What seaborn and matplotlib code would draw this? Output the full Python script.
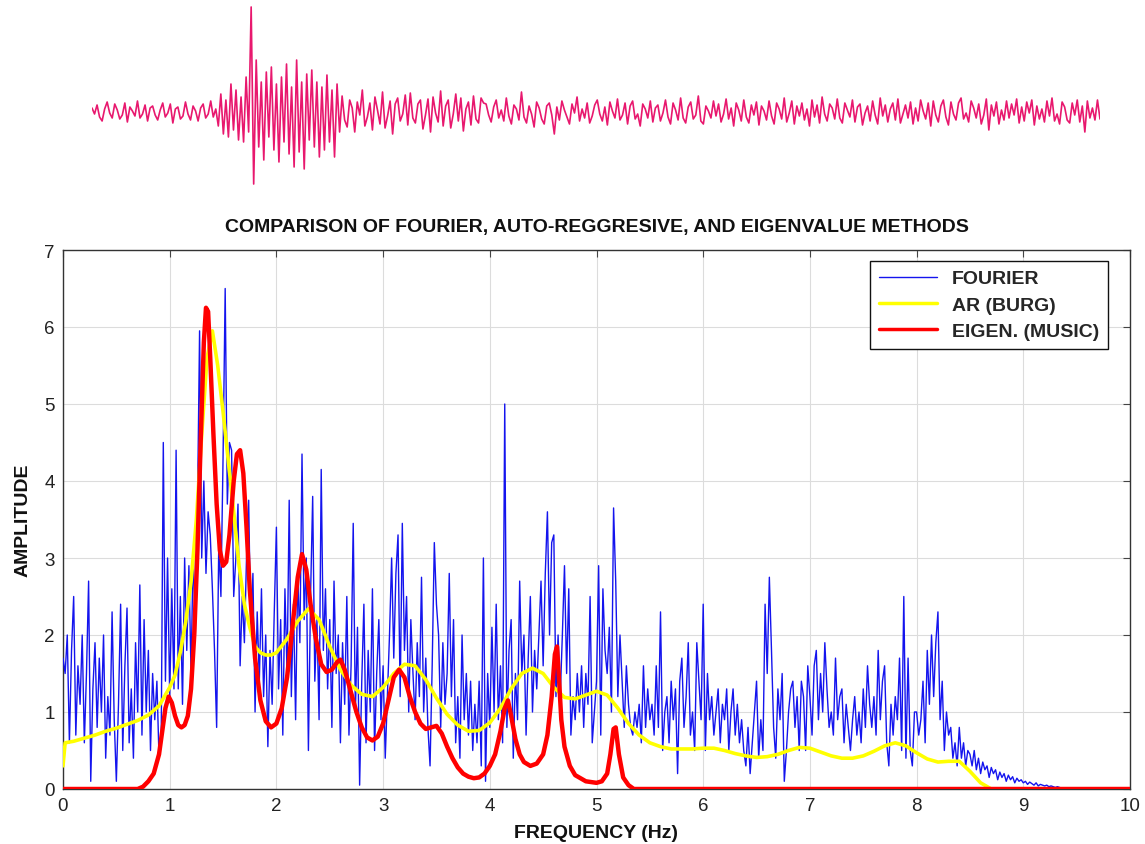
import numpy as np
import pandas as pd
import matplotlib
matplotlib.use("Agg")
import matplotlib.pyplot as plt
import seaborn as sns

# ---------------- data ----------------
# seismogram trace (arbitrary units, evenly sampled)
seismo = [4,-2,7,-5,-9,3,10,-1,-6,8,2,-7,-3,9,-10,5,1,-4,11,-6,-2,7,-9,4,6,-3,-8,2,9,-5,
          -1,8,-11,3,5,-7,-4,10,-2,-8,6,1,-9,4,8,-6,-2,11,-5,3,
          -14,18,-22,12,-25,28,-18,22,-28,15,-30,35,-20,
          105,-72,
          52,-35,30,-48,40,-25,45,-38,28,-50,35,-30,48,-42,25,-55,52,-40,30,-57,
          38,-28,42,-35,30,-45,25,-38,37,-30,22,-45,28,-20,
          16,-8,-15,12,4,-20,10,-3,22,-14,-5,9,-18,15,2,-12,20,-16,-4,11,
          -22,8,14,-9,-2,17,-13,19,-6,-11,8,12,-17,-3,13,-20,15,-1,-10,21,
          -14,6,12,-16,-2,18,-9,14,-19,3,10,-13,16,-7,-11,14,9,
          8,-3,-10,5,12,-6,2,-9,14,-4,-12,7,3,-8,20,-5,-11,6,-2,-15,
          10,4,-7,-12,6,9,-3,-22,5,-8,11,2,-5,-12,8,-1,15,-9,3,-6,
          9,-11,-4,7,12,-2,-9,5,-13,10,1,-6,13,-8,-3,9,-12,6,11,-7,
          -2,-14,8,3,-6,11,-10,4,7,-9,-1,12,-5,-12,9,2,-8,14,-6,-11,
          5,10,-7,-3,16,-9,-12,6,1,-6,11,-4,8,-10,-2,13,-7,4,-14,9,
          2,-9,12,-5,-11,7,-3,10,-13,6,1,-8,11,-4,-12,9,3,-7,14,-10,
          -1,11,-12,6,-4,9,-8,3,-14,12,-5,7,-11,15,-2,-9,8,4,-7,13,
          -6,-11,9,2,-5,12,-10,5,8,-13,-1,6,-9,11,-3,-12,14,-4,7,-10,
          3,9,-8,13,-11,-2,7,-6,10,-12,4,-9,12,1,-7,9,-14,11,-3,-10,
          6,12,-5,-13,10,-2,-8,9,14,-7,-1,-10,11,4,-6,8,-12,-3,13,-18,
          7,-4,10,-12,2,-8,11,-6,8,-3,13,-11,5,-9,10,-1,12,-13,6,-7,
          3,-10,11,-4,14,-9,-2,-12,10,5,-8,-11,9,-3,12,-10,6,-20,11,-6,
          4,-8,12,-7]

# Fourier amplitude spectrum, sampled every 0.02 Hz from 0 Hz
fourier_step_hz = 0.02
fourier_amp = [
    1.7,1.5,2.0,0.6,1.8,2.5,0.7,1.6,1.1,2.0,0.6,1.5,2.7,0.1,1.3,1.9,0.8,1.7,1.0,2.0,0.4,1.2,0.7,2.3,0.9,
    0.1,1.1,2.4,0.5,1.6,2.35,0.6,1.3,0.4,1.9,1.0,2.65,0.7,2.2,1.0,1.8,0.5,1.5,0.9,1.4,0.4,0.6,4.5,1.4,3.0,
    1.2,2.6,1.3,4.4,1.3,2.5,1.1,3.0,1.8,2.9,1.5,3.1,2.0,3.6,5.95,3.0,4.0,2.8,3.6,3.3,2.6,1.8,0.8,3.2,2.5,
    4.3,6.5,3.7,4.5,4.4,2.5,3.0,3.7,1.6,2.5,1.9,3.0,3.75,2.0,2.8,1.0,2.3,1.4,2.6,1.2,2.0,0.55,1.8,1.1,2.3,
    3.4,1.3,2.2,0.7,2.6,1.5,3.75,1.2,2.4,0.9,2.8,1.9,4.35,2.2,3.0,0.5,2.5,3.8,1.4,2.2,0.9,4.15,1.8,2.6,1.3,
    2.2,0.8,2.7,1.5,2.0,0.6,1.9,1.1,2.5,0.7,1.6,3.45,1.0,2.1,0.05,1.4,2.4,0.6,1.8,1.0,2.6,0.5,1.5,2.2,0.9,
    1.6,0.4,1.2,2.0,3.0,1.7,2.8,3.3,1.2,3.45,1.8,2.5,1.0,2.2,1.5,0.9,1.9,1.2,2.75,1.0,1.7,0.8,0.3,1.6,3.2,
    2.4,2.0,0.8,1.9,1.1,1.5,2.8,1.2,2.2,0.6,1.2,0.4,2.0,0.9,1.5,0.7,1.4,0.5,1.1,0.6,1.4,0.3,3.0,0.1,1.5,
    0.8,2.1,1.0,2.4,0.9,1.6,0.6,5.0,0.8,1.8,2.2,0.4,1.5,0.9,2.7,1.5,2.0,0.7,1.7,2.5,1.0,1.8,1.3,2.0,2.7,
    1.6,2.8,3.6,2.0,3.2,3.3,1.2,2.0,1.2,2.0,2.9,1.5,2.6,0.7,1.2,0.9,1.5,1.0,1.6,0.8,1.5,1.1,2.5,0.6,1.0,
    1.4,2.9,0.7,2.6,1.8,1.5,2.1,1.0,3.65,2.7,1.2,2.0,1.4,0.8,1.6,1.1,0.8,0.7,1.0,0.8,1.1,0.6,1.6,0.8,1.3,
    0.9,1.1,0.7,1.6,0.8,2.3,0.5,1.0,1.2,0.6,1.4,0.9,1.3,0.2,1.4,1.7,0.8,1.2,1.9,0.7,1.0,0.5,1.9,1.4,0.9,
    2.4,0.5,1.5,0.9,1.2,0.7,1.0,1.3,0.6,1.1,0.9,1.3,0.5,1.0,1.3,0.7,1.1,0.6,0.9,0.5,0.3,0.8,0.2,0.6,1.0,
    1.4,0.4,0.9,0.5,2.4,1.5,2.75,1.8,0.8,0.4,1.3,0.9,1.5,0.1,0.5,1.0,1.3,1.4,0.8,1.2,0.5,1.4,1.2,0.5,1.6,
    1.2,0.7,1.6,1.8,0.9,1.5,1.0,1.9,1.3,0.8,1.0,0.7,1.7,0.9,1.2,1.3,0.6,1.1,0.8,0.5,0.9,1.2,0.7,1.0,0.6,
    1.3,0.8,1.6,1.1,0.8,1.2,0.7,1.8,0.9,1.4,1.6,0.6,0.3,1.1,0.7,1.2,0.9,1.7,0.5,2.5,0.4,1.7,0.5,0.3,1.0,
    1.0,0.7,0.9,1.4,0.6,1.8,1.1,2.0,1.2,1.9,2.3,0.9,1.4,0.5,1.0,0.7,0.8,0.4,0.6,0.3,0.8,0.4,0.6,0.3,0.5,
    0.45,0.3,0.5,0.25,0.4,0.2,0.35,0.25,0.3,0.15,0.28,0.2,0.25,0.12,0.22,0.15,0.2,0.1,0.18,0.12,0.16,0.08,0.14,0.1,0.12,
    0.08,0.1,0.06,0.09,0.07,0.05,0.08,0.04,0.06,0.05,0.04,0.05,0.03,0.04,0.03,0.02,0.03,0.02,0.01,0.0,0.0]

# AR (Burg) spectrum
ar_freq = [0, 0.02, 0.1, 0.2, 0.3, 0.4, 0.5, 0.6, 0.7, 0.8, 0.9, 0.95, 1.0, 1.05, 1.1, 1.15, 1.2, 1.25,
           1.3, 1.35, 1.4, 1.45, 1.5, 1.55, 1.6, 1.65, 1.7, 1.75, 1.8, 1.85, 1.9, 1.95, 2.0, 2.1, 2.2,
           2.3, 2.4, 2.5, 2.6, 2.7, 2.8, 2.9, 3.0, 3.1, 3.2, 3.3, 3.4, 3.5, 3.6, 3.7, 3.8, 3.9, 4.0,
           4.1, 4.2, 4.3, 4.4, 4.5, 4.6, 4.7, 4.8, 4.9, 5.0, 5.1, 5.2, 5.3, 5.4, 5.5, 5.6, 5.7, 5.8,
           5.9, 6.0, 6.1, 6.2, 6.3, 6.4, 6.5, 6.6, 6.7, 6.8, 6.9, 7.0, 7.1, 7.2, 7.3, 7.4, 7.5, 7.6,
           7.7, 7.8, 7.9, 8.0, 8.1, 8.2, 8.3, 8.4, 8.5, 8.6, 8.7]
ar_amp = [0.3, 0.6, 0.62, 0.66, 0.7, 0.75, 0.79, 0.84, 0.89, 0.96, 1.08, 1.2, 1.32, 1.48, 1.78, 2.17,
          2.69, 3.5, 4.6, 5.6, 5.95, 5.5, 4.9, 4.25, 3.6, 2.9, 2.4, 2.1, 1.85, 1.77, 1.74, 1.74, 1.77,
          1.95, 2.18, 2.34, 2.2, 1.85, 1.55, 1.35, 1.23, 1.2, 1.32, 1.5, 1.62, 1.6, 1.42, 1.18, 0.97,
          0.83, 0.75, 0.76, 0.86, 1.05, 1.3, 1.5, 1.57, 1.5, 1.32, 1.19, 1.17, 1.22, 1.27, 1.22, 1.05,
          0.85, 0.7, 0.6, 0.55, 0.52, 0.52, 0.52, 0.53, 0.53, 0.5, 0.46, 0.43, 0.41, 0.42, 0.45, 0.5,
          0.54, 0.53, 0.48, 0.43, 0.4, 0.4, 0.43, 0.49, 0.56, 0.6, 0.56, 0.47, 0.39, 0.35, 0.36, 0.36,
          0.23, 0.08, 0.0]

# Eigenvalue (MUSIC) pseudo-spectrum
music_freq = [0, 0.7, 0.75, 0.8, 0.85, 0.9, 0.93, 0.96, 0.99, 1.02, 1.05, 1.08, 1.11, 1.14, 1.17, 1.2,
              1.23, 1.26, 1.29, 1.32, 1.34, 1.36, 1.38, 1.41, 1.44, 1.47, 1.5, 1.53, 1.56, 1.6, 1.63,
              1.66, 1.69, 1.72, 1.75, 1.8, 1.85, 1.9, 1.95, 2.0, 2.05, 2.1, 2.15, 2.2, 2.24, 2.28,
              2.32, 2.37, 2.42, 2.47, 2.52, 2.57, 2.6, 2.64, 2.7, 2.75, 2.8, 2.85, 2.9, 2.95, 3.0,
              3.05, 3.1, 3.15, 3.2, 3.25, 3.3, 3.35, 3.4, 3.45, 3.5, 3.55, 3.6, 3.65, 3.7, 3.75, 3.8,
              3.85, 3.9, 3.95, 4.0, 4.05, 4.1, 4.14, 4.17, 4.2, 4.24, 4.28, 4.32, 4.38, 4.44, 4.5,
              4.54, 4.58, 4.61, 4.63, 4.65, 4.67, 4.7, 4.75, 4.8, 4.9, 5.0, 5.05, 5.1, 5.13, 5.16,
              5.18, 5.21, 5.25, 5.3, 5.35, 10.0]
music_amp = [0, 0, 0.03, 0.1, 0.2, 0.45, 0.75, 1.05, 1.2, 1.12, 0.95, 0.83, 0.8, 0.83, 0.95, 1.3,
             2.0, 3.1, 4.5, 5.8, 6.25, 6.2, 5.6, 4.6, 3.7, 3.1, 2.9, 2.95, 3.3, 4.0, 4.35, 4.4, 4.1,
             3.4, 2.6, 1.7, 1.15, 0.88, 0.8, 0.85, 1.05, 1.45, 2.1, 2.75, 3.05, 2.85, 2.4, 1.95,
             1.62, 1.52, 1.55, 1.65, 1.68, 1.55, 1.25, 1.0, 0.8, 0.67, 0.63, 0.68, 0.85, 1.15, 1.45,
             1.55, 1.45, 1.2, 1.0, 0.85, 0.78, 0.8, 0.82, 0.72, 0.55, 0.4, 0.28, 0.2, 0.16, 0.14,
             0.15, 0.2, 0.3, 0.45, 0.75, 1.05, 1.15, 0.95, 0.65, 0.45, 0.35, 0.3, 0.33, 0.45, 0.7,
             1.2, 1.75, 1.85, 1.4, 0.9, 0.55, 0.3, 0.18, 0.1, 0.08, 0.1, 0.2, 0.45, 0.78, 0.8, 0.45,
             0.15, 0.05, 0.0, 0.0]

title_text = "COMPARISON OF FOURIER, AUTO-REGGRESIVE, AND EIGENVALUE METHODS"
legend_labels = ["FOURIER", "AR (BURG)", "EIGEN. (MUSIC)"]
x_ticks = [0, 1, 2, 3, 4, 5, 6, 7, 8, 9, 10]
y_ticks = [0, 1, 2, 3, 4, 5, 6, 7]

# ---------------- style ----------------
sns.set_style("white")
plt.rcParams['font.family'] = ['Liberation Sans', 'DejaVu Sans']

W, H = 1145, 845
fig = plt.figure(figsize=(W / 100, H / 100), dpi=100)

# seismogram panel
ax_s = fig.add_axes([92 / W, 1 - 195 / H, 1008 / W, 195 / H])
seis_df = pd.DataFrame({"t": np.arange(len(seismo)), "v": seismo})
sns.lineplot(data=seis_df, x="t", y="v", ax=ax_s, color="#E8186E", lw=1.2,
             estimator=None, sort=False)
ax_s.set_xlim(0, len(seismo) - 1)
ax_s.set_ylim(-82, 113)
ax_s.axis("off")

# spectrum panel
ax = fig.add_axes([63 / W, 1 - 790 / H, 1067 / W, 539 / H])
four_df = pd.DataFrame({"f": np.arange(len(fourier_amp)) * fourier_step_hz, "a": fourier_amp})
ar_df = pd.DataFrame({"f": ar_freq, "a": ar_amp})
mu_df = pd.DataFrame({"f": music_freq, "a": music_amp})

BLUE = "#1414EE"
sns.lineplot(data=four_df, x="f", y="a", ax=ax, color=BLUE, lw=1.0,
             estimator=None, sort=False, label=legend_labels[0], zorder=3)
sns.lineplot(data=ar_df, x="f", y="a", ax=ax, color="#FFFF00", lw=2.6,
             estimator=None, sort=False, label=legend_labels[1], zorder=4)
sns.lineplot(data=mu_df, x="f", y="a", ax=ax, color="#FF0000", lw=3.2,
             estimator=None, sort=False, label=legend_labels[2], zorder=5)

ax.set_xlim(0, 10)
ax.set_ylim(0, 7)
ax.set_xticks(x_ticks)
ax.set_yticks(y_ticks)
ax.tick_params(direction="in", length=5, width=0.8, colors="#444444",
               labelcolor="#222222", labelsize=13.5, top=True, right=True, pad=6)
ax.grid(True, color="#DCDCDC", lw=0.8)
ax.set_axisbelow(True)
for sp in ax.spines.values():
    sp.set_visible(True)
    sp.set_color("#333333")
    sp.set_linewidth(1.0)

ax.set_title(title_text, fontsize=14, fontweight="bold", pad=14, color="#111111")
ax.set_xlabel("FREQUENCY (Hz)", fontsize=14, fontweight="bold", labelpad=7, color="#111111")
ax.set_ylabel("AMPLITUDE", fontsize=14, fontweight="bold", labelpad=9, color="#111111")

leg = ax.legend(loc="upper right", bbox_to_anchor=((1108 - 63) / 1067, (790 - 262) / 539),
                borderaxespad=0, fancybox=False, framealpha=1, edgecolor="#111111",
                prop={"weight": "bold", "size": 14}, handlelength=3.0,
                handletextpad=0.75, labelspacing=0.45, borderpad=0.45)
leg.get_frame().set_linewidth(1.0)
for line in leg.get_lines():
    line.set_linewidth(2.5 if line.get_color() != BLUE else 1.0)

fig.savefig("out.png", dpi=100)
